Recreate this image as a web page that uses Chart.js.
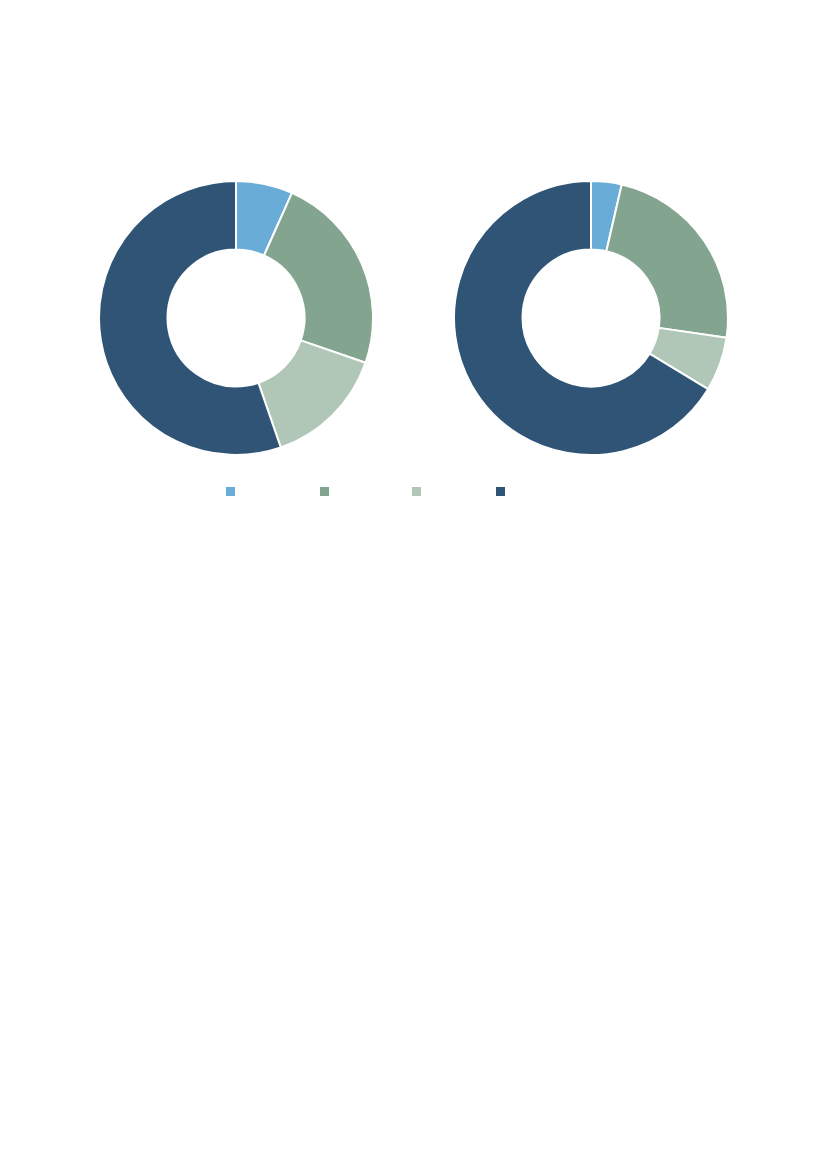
<!DOCTYPE html>
<html>
<head>
<meta charset="utf-8">
<script src="https://cdn.jsdelivr.net/npm/chart.js@4.4.1/dist/chart.umd.min.js"></script>
<style>
  html, body { margin: 0; padding: 0; background: #fff; }
  body { width: 827px; height: 1169px; position: relative; overflow: hidden; font-family: "Open Sans", sans-serif; }
  .pie { position: absolute; width: 276px; height: 276px; }
  #leftBox { left: 98px; top: 180px; }
  #rightBox { left: 453px; top: 180px; }
  .swatch { position: absolute; width: 9px; height: 9px; top: 487px; }
</style>
</head>
<body>
<div class="pie" id="leftBox"><canvas id="leftChart"></canvas></div>
<div class="pie" id="rightBox"><canvas id="rightChart"></canvas></div>
<div id="legend"></div>
<script>
const categories = ["Catégorie 1", "Catégorie 2", "Catégorie 3", "Catégorie 4"];
const leftValues = [6.7, 23.6, 14.4, 55.3];
const rightValues = [3.6, 23.7, 6.4, 66.3];
const colors = ["#68acd7", "#83a48f", "#b0c6b7", "#2f5475"];
const legendX = [226, 320, 412, 496];

function makeDonut(id, values) {
  const ctx = document.getElementById(id);
  return new Chart(ctx, {
    type: "doughnut",
    data: {
      labels: categories,
      datasets: [
        {
          data: values,
          backgroundColor: colors,
          borderColor: "#ffffff",
          borderWidth: 2,
        },
      ],
    },
    options: {
      responsive: true,
      maintainAspectRatio: false,
      animation: false,
      cutout: "50%",
      layout: { padding: 0 },
      plugins: {
        legend: { display: false },
        tooltip: { enabled: false },
      },
    },
  });
}

makeDonut("leftChart", leftValues);
makeDonut("rightChart", rightValues);

// legend squares only, the reference shows no label text
const legend = document.getElementById("legend");
categories.forEach((name, i) => {
  const sw = document.createElement("div");
  sw.className = "swatch";
  sw.title = name;
  sw.style.left = legendX[i] + "px";
  sw.style.background = colors[i];
  legend.appendChild(sw);
});
</script>
</body>
</html>
